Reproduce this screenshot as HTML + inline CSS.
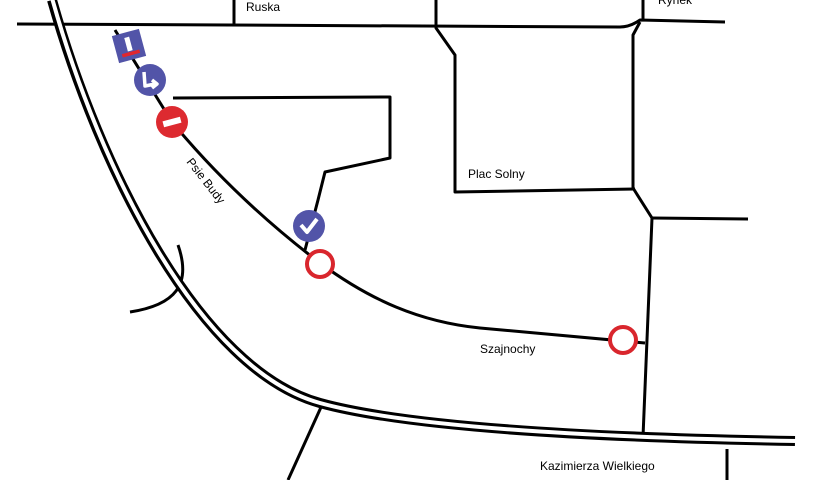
<!DOCTYPE html>
<html><head><style>
html,body{margin:0;padding:0;background:#fff;}
svg{display:block;}
text{font-family:"Liberation Sans",sans-serif;font-size:12px;fill:#000;}
</style></head><body>
<svg width="832" height="480" viewBox="0 0 832 480" xmlns="http://www.w3.org/2000/svg">
<g fill="none" stroke="#000" stroke-width="3" stroke-linejoin="round">
<path d="M17,24 L620,27 Q630,27 640,20 L725,22"/>
<path d="M643,0 L643,20"/>
<path d="M234,0 L234,25"/>
<path d="M436,0 L436,28 L455,55 L455,192 L635,189"/>
<path d="M640,22 L633,35 L633,188 L652,218 L643,437"/>
<path d="M652,218 L748,219"/>
<path d="M173,98 L390,97 L390,158 L325,172 L318,200 L305,250"/>
<path d="M115,30 L172,122 C220,180 270,225 320,263 C370,300 420,322 480,328 L645,343"/>
<path d="M178,245 C192,285 175,305 130,312"/>
<path d="M322,405 L288,480"/>
<path d="M727,449 L727,480"/>
</g>
<path d="M52,0 C100,170 200,370 320,403 C400,425 560,437 795,441" fill="none" stroke="#000" stroke-width="10"/>
<path d="M52,-2 C100,170 200,370 320,403 C400,425 560,437 797,441" fill="none" stroke="#fff" stroke-width="4"/>
<g transform="translate(129,46) rotate(-15)">
<rect x="-14" y="-14" width="28" height="28" fill="#5254a8"/>
<rect x="-2.5" y="-9" width="5" height="14" fill="#fff"/>
<rect x="-9" y="6" width="18" height="3.5" fill="#e0262e"/>
</g>
<circle cx="150" cy="80" r="16" fill="#5254a8"/>
<path d="M144,72 L145,86 L155,84 M152,80 L157,84 L152,88" fill="none" stroke="#fff" stroke-width="3.5" stroke-linejoin="round"/>
<circle cx="172" cy="122" r="16" fill="#dd2a30"/>
<rect x="163" y="119" width="18" height="6" fill="#fff" transform="rotate(-15 172 122)"/>
<circle cx="309" cy="226" r="16" fill="#5254a8"/>
<path d="M301,225 L307,232 L317,219" fill="none" stroke="#fff" stroke-width="4" stroke-linejoin="round"/>
<circle cx="320" cy="264" r="13" fill="#fff" stroke="#d9262d" stroke-width="4"/>
<circle cx="623" cy="340" r="13" fill="#fff" stroke="#d9262d" stroke-width="4"/>
<text x="246" y="11">Ruska</text>
<text x="658" y="4">Rynek</text>
<text x="468" y="178">Plac Solny</text>
<text x="480" y="353">Szajnochy</text>
<text x="540" y="470">Kazimierza Wielkiego</text>
<text x="0" y="0" transform="translate(186,162) rotate(52)">Psie Budy</text>
</svg>
</body></html>
